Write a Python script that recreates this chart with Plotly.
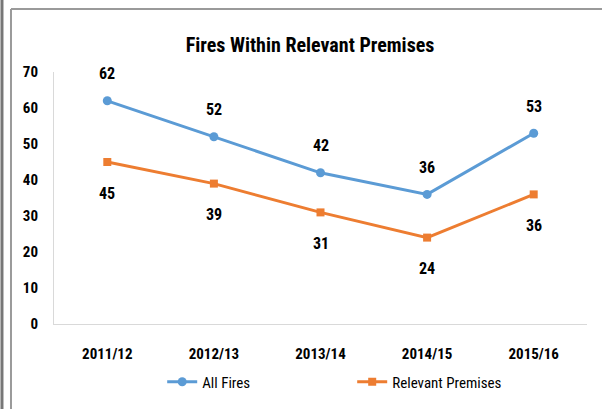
import plotly.graph_objects as go

categories = ["2011/12", "2012/13", "2013/14", "2014/15", "2015/16"]
all_fires = [62, 52, 42, 36, 53]
relevant_premises = [45, 39, 31, 24, 36]
y_ticks = [0, 10, 20, 30, 40, 50, 60, 70]

BLUE = "#5B9BD5"
ORANGE = "#ED7D31"
FONT = "Liberation Sans Narrow, Arial Narrow, Roboto Condensed, Liberation Sans, sans-serif"

fig = go.Figure()
fig.add_trace(go.Scatter(
    x=categories, y=all_fires, name="All Fires", mode="lines+markers",
    line=dict(color=BLUE, width=3), marker=dict(symbol="circle", size=9, color=BLUE),
))
fig.add_trace(go.Scatter(
    x=categories, y=relevant_premises, name="Relevant Premises", mode="lines+markers",
    line=dict(color=ORANGE, width=3), marker=dict(symbol="square", size=8, color=ORANGE),
))

for c, v in zip(categories, all_fires):
    fig.add_annotation(x=c, y=v, text=f"<b>{v}</b>", showarrow=False, yshift=27,
                       font=dict(family=FONT, size=16, color="#000"))
for c, v in zip(categories, relevant_premises):
    fig.add_annotation(x=c, y=v, text=f"<b>{v}</b>", showarrow=False, yshift=-31,
                       font=dict(family=FONT, size=16, color="#000"))

# outer frame lines
shapes = [
    dict(type="line", xref="paper", yref="paper", x0=-0.0976, x1=-0.0976, y0=1.3, y1=-0.35,
         line=dict(color="#777777", width=3)),
    dict(type="line", xref="paper", yref="paper", x0=-0.0807, x1=-0.0807, y0=1.25, y1=-0.35,
         line=dict(color="#9a9a9a", width=2)),
    dict(type="line", xref="paper", yref="paper", x0=-0.0807, x1=1.05, y0=1.25, y1=1.25,
         line=dict(color="#9a9a9a", width=2)),
]

fig.update_layout(
    width=602, height=409,
    margin=dict(l=54, r=15, t=72, b=85, autoexpand=False),
    paper_bgcolor="white", plot_bgcolor="white",
    shapes=shapes,
    title=dict(text="<b>Fires Within Relevant Premises</b>", x=0.515, xanchor="center",
               y=0.89, yanchor="middle", yref="container",
               font=dict(family=FONT, size=20, color="#000")),
    font=dict(family=FONT, color="#000"),
    xaxis=dict(type="category", range=[-0.5, 4.5], showline=True, linecolor="#d9d9d9",
               linewidth=1, showgrid=False, zeroline=False, ticks="", automargin=False,
               ticklabelstandoff=16,
               tickfont=dict(family=FONT, size=15, color="#000")),
    yaxis=dict(range=[0, 70], tickvals=y_ticks, ticktext=[f"<b>{t}</b>" for t in y_ticks],
               showline=True, linecolor="#d9d9d9", linewidth=1, automargin=False,
               showgrid=False, zeroline=False, ticks="", ticklabelstandoff=12,
               tickfont=dict(family=FONT, size=15, color="#000")),
    legend=dict(orientation="h", x=0.203, xanchor="left", y=-0.23, yanchor="middle",
                font=dict(family=FONT, size=15, color="#000"), itemwidth=30,
                entrywidth=145, traceorder="normal"),
    showlegend=True,
)
fig.update_xaxes(ticktext=[f"<b>{c}</b>" for c in categories], tickvals=categories)

fig.write_html("out.html", config={"displayModeBar": False},
               post_script="document.body.style.margin='0px';document.body.style.overflow='hidden';")
